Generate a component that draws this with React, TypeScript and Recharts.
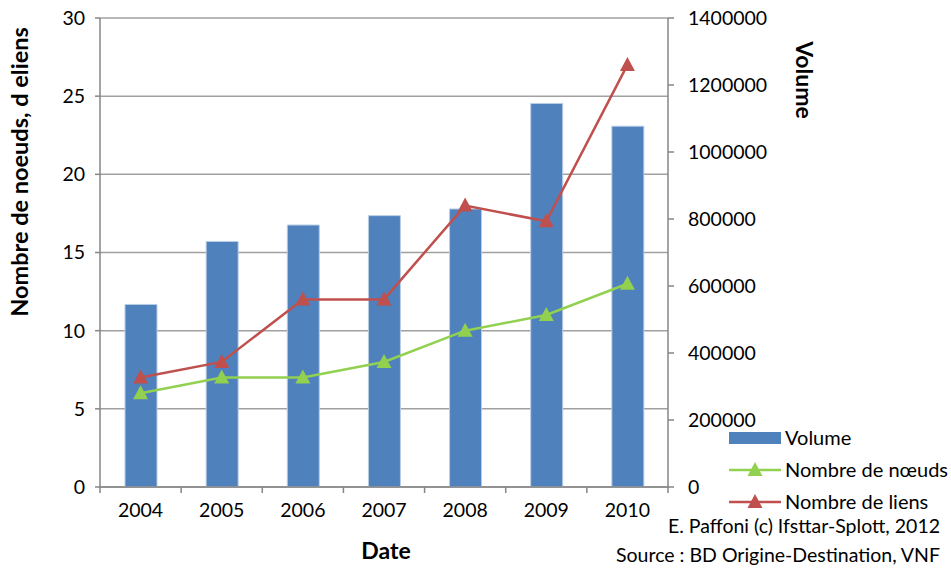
import { Bar, CartesianGrid, ComposedChart, Line, XAxis, YAxis } from 'recharts'

const years = ['2004', '2005', '2006', '2007', '2008', '2009', '2010']
const volume = [545000, 733000, 782000, 810000, 830000, 1145000, 1077000]
const noeuds = [6, 7, 7, 8, 10, 11, 13]
const liens = [7, 8, 12, 12, 18, 17, 27]

const leftTicks = [0, 5, 10, 15, 20, 25, 30]
const rightTicks = [0, 200000, 400000, 600000, 800000, 1000000, 1200000, 1400000]

const FONT = 'Lato, "Open Sans", sans-serif'
const BLUE = '#4F81BD'
const GREEN = '#92D050'
const RED = '#C0504D'
const AXIS = '#868686'

const PLOT_LEFT = 100
const PLOT_RIGHT = 668
const BAND = (PLOT_RIGHT - PLOT_LEFT) / years.length

const data = years.map((year, i) => ({ year, volume: volume[i], noeuds: noeuds[i], liens: liens[i] }))

const legendRows = [
  { label: 'Volume', kind: 'bar', color: BLUE },
  { label: 'Nombre de nœuds', kind: 'line', color: GREEN },
  { label: 'Nombre de liens', kind: 'line', color: RED },
]

function Triangle({ cx, cy, fill }: { cx?: number; cy?: number; fill: string }) {
  if (cx == null || cy == null) return null
  return <path d={`M${cx},${cy - 8} L${cx + 7.5},${cy + 6} L${cx - 7.5},${cy + 6} Z`} fill={fill} />
}

function DateTick(props: any) {
  const { x, y, payload, index } = props
  const left = x - BAND / 2
  return (
    <g>
      <line x1={left} x2={left} y1={y - 8} y2={y - 2} stroke={AXIS} strokeWidth={1.5} />
      {index === years.length - 1 && (
        <line x1={x + BAND / 2} x2={x + BAND / 2} y1={y - 8} y2={y - 2} stroke={AXIS} strokeWidth={1.5} />
      )}
      <text x={x} y={y + 22} textAnchor="middle" fontSize={19.5} fill="#000" fontFamily={FONT}>
        {payload.value}
      </text>
    </g>
  )
}

function LegendBox({ x, y }: { x: number; y: number }) {
  return (
    <g transform={`translate(${x},${y})`}>
      {legendRows.map((r, i) => {
        const cy = i * 32
        return (
          <g key={r.label}>
            {r.kind === 'bar' ? (
              <rect x={0} y={cy - 6} width={52} height={12} fill={BLUE} />
            ) : (
              <>
                <line x1={0} x2={52} y1={cy} y2={cy} stroke={r.color} strokeWidth={2.5} />
                <Triangle cx={26} cy={cy} fill={r.color} />
              </>
            )}
            <text x={56} y={cy + 7} fontSize={20} fontFamily={FONT} fill="#000">
              {r.label}
            </text>
          </g>
        )
      })}
    </g>
  )
}

export default function App() {
  return (
    <div style={{ position: 'absolute', left: 0, top: 0, width: 951, height: 570, background: '#fff' }}>
      <ComposedChart
        width={951}
        height={570}
        data={data}
        margin={{ top: 18, right: 163, bottom: 43, left: 0 }}
        barSize={32}
      >
        <CartesianGrid vertical={false} stroke="#A0A0A0" strokeWidth={1.5} yAxisId="left" />
        <XAxis
          dataKey="year"
          height={40}
          stroke={AXIS}
          strokeWidth={1.5}
          tickLine={false}
          tick={<DateTick />}
          interval={0}
        />
        <YAxis
          yAxisId="left"
          width={100}
          domain={[0, 30]}
          ticks={leftTicks}
          stroke={AXIS}
          strokeWidth={1.5}
          tickSize={5}
          tickMargin={10}
          tick={{ fill: '#000', fontSize: 19.5, fontFamily: FONT }}
          interval={0}
        />
        <YAxis
          yAxisId="right"
          orientation="right"
          width={120}
          domain={[0, 1400000]}
          ticks={rightTicks}
          stroke={AXIS}
          strokeWidth={1.5}
          tickSize={6}
          tickMargin={14}
          tick={{ fill: '#000', fontSize: 19.5, fontFamily: FONT }}
          interval={0}
        />
        <Bar yAxisId="right" dataKey="volume" name="Volume" fill={BLUE} stroke="#B9CDE5" strokeWidth={1} isAnimationActive={false} />
        <Line
          yAxisId="left"
          dataKey="noeuds"
          name="Nombre de nœuds"
          stroke={GREEN}
          strokeWidth={2.5}
          dot={(p: any) => <Triangle key={`n${p.index}`} cx={p.cx} cy={p.cy} fill={GREEN} />}
          activeDot={false}
          isAnimationActive={false}
        />
        <Line
          yAxisId="left"
          dataKey="liens"
          name="Nombre de liens"
          stroke={RED}
          strokeWidth={2.5}
          dot={(p: any) => <Triangle key={`l${p.index}`} cx={p.cx} cy={p.cy} fill={RED} />}
          activeDot={false}
          isAnimationActive={false}
        />
        <LegendBox x={729} y={438} />
        <text
          transform="translate(28,172) rotate(-90)"
          textAnchor="middle"
          fontSize={23.5}
          fontWeight="bold"
          fontFamily={FONT}
          fill="#000"
        >
          Nombre de noeuds, d eliens
        </text>
        <text
          transform="translate(796,80) rotate(90)"
          textAnchor="middle"
          fontSize={23}
          fontWeight="bold"
          fontFamily={FONT}
          fill="#000"
        >
          Volume
        </text>
        <text x={386} y={559} textAnchor="middle" fontSize={23} fontWeight="bold" fontFamily={FONT} fill="#000">
          Date
        </text>
        <text x={940} y={533} textAnchor="end" fontSize={19.5} fontFamily={FONT} fill="#000">
          E. Paffoni (c) Ifsttar-Splott, 2012
        </text>
        <text x={940} y={562} textAnchor="end" fontSize={19.5} fontFamily={FONT} fill="#000">
          Source : BD Origine-Destination, VNF
        </text>
      </ComposedChart>
    </div>
  )
}
